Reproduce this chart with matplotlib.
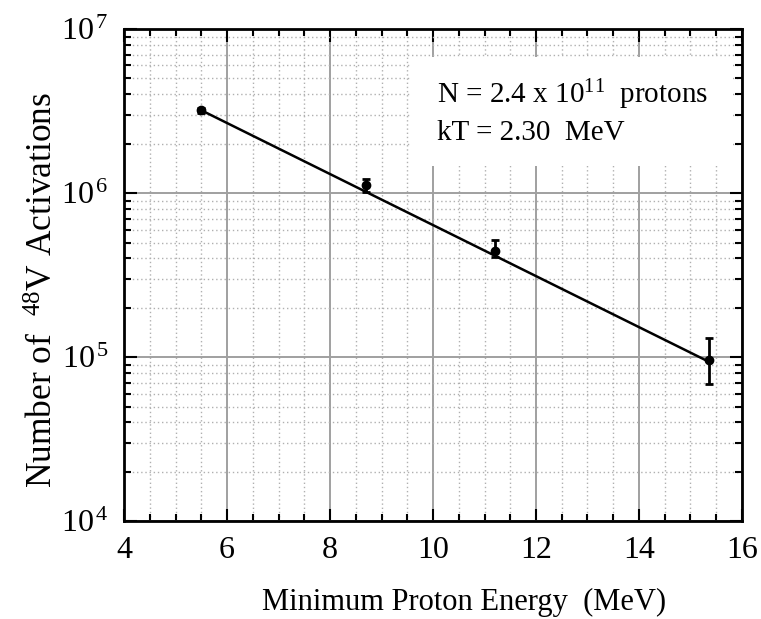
import matplotlib
matplotlib.use("Agg")
import matplotlib.pyplot as plt
from matplotlib.ticker import MultipleLocator, LogLocator, FixedLocator, NullFormatter
from matplotlib.patches import Rectangle

# dati
energy = [5.5, 8.7, 11.2, 15.35]           # MeV
activations = [3.2e6, 1.12e6, 4.45e5, 9.6e4]
err_low = [0.12e6, 0.10e6, 0.35e5, 2.7e4]
err_high = [0.12e6, 0.10e6, 0.7e5, 3.4e4]

# retta di fit (estremi)
fit_x = [5.5, 15.35]
fit_y = [3.2e6, 9.4e4]

x_ticks = [4, 6, 8, 10, 12, 14, 16]
y_ticks = [1e4, 1e5, 1e6, 1e7]
y_tick_labels = [r"$\mathregular{10^{\,4}}$", r"$\mathregular{10^{\,5}}$",
                 r"$\mathregular{10^{\,6}}$", r"$\mathregular{10^{\,7}}$"]

plt.rcParams['font.family'] = ['Liberation Serif', 'DejaVu Serif']
plt.rcParams['mathtext.fontset'] = 'custom'
plt.rcParams['mathtext.rm'] = 'Liberation Serif'
plt.rcParams['mathtext.it'] = 'Liberation Serif:italic'

fig = plt.figure(figsize=(7.61, 6.19), dpi=100)
ax = fig.add_axes([0.163, 0.158, 0.812, 0.795])

ax.set_xlim(4, 16)
ax.set_ylim(1e4, 1e7)
ax.set_yscale('log')

# griglia
ax.set_axisbelow(True)
ax.xaxis.set_major_locator(FixedLocator(x_ticks))
ax.xaxis.set_minor_locator(MultipleLocator(0.5))
ax.yaxis.set_major_locator(FixedLocator(y_ticks))
ax.yaxis.set_minor_locator(LogLocator(base=10, subs=range(2, 10)))
ax.yaxis.set_minor_formatter(NullFormatter())
ax.grid(which='major', color='#a0a0a0', linewidth=1.4, linestyle='-')
ax.grid(which='minor', color='#b0b0b0', linewidth=1.0, linestyle=(0, (1, 2)))

ax.set_xticklabels([str(v) for v in x_ticks])
ax.set_yticklabels(y_tick_labels)

ax.tick_params(which='both', direction='in', top=True, right=True,
               width=1.5, colors='black', labelsize=23)
ax.tick_params(which='major', length=9, pad=11)
ax.tick_params(which='minor', length=5)
for s in ax.spines.values():
    s.set_linewidth(2)

# riquadro bianco con il testo
ax.add_patch(Rectangle((0.463, 0.721), 0.523, 0.222, transform=ax.transAxes,
                       facecolor='white', edgecolor='none', zorder=2))
ax.text(0.506, 0.85, r"N = 2.4 x 10$^{11}$  protons", transform=ax.transAxes,
        fontsize=21, zorder=3)
ax.text(0.506, 0.774, "kT = 2.30  MeV", transform=ax.transAxes,
        fontsize=21, zorder=3)

# dati e fit
ax.plot(fit_x, fit_y, color='black', linewidth=1.8, zorder=4)
ax.errorbar(energy, activations, yerr=[err_low, err_high], fmt='o',
            color='black', markersize=6, elinewidth=2, capsize=3,
            capthick=2, zorder=5)

ax.set_xlabel("Minimum Proton Energy  (MeV)", fontsize=22)
ax.xaxis.set_label_coords(0.55, -0.135)
ax.set_ylabel(r"Number of  $^{48}$V Activations", fontsize=25.5)
ax.yaxis.set_label_coords(-0.103, 0.47)

fig.savefig("out.png", dpi=100)
